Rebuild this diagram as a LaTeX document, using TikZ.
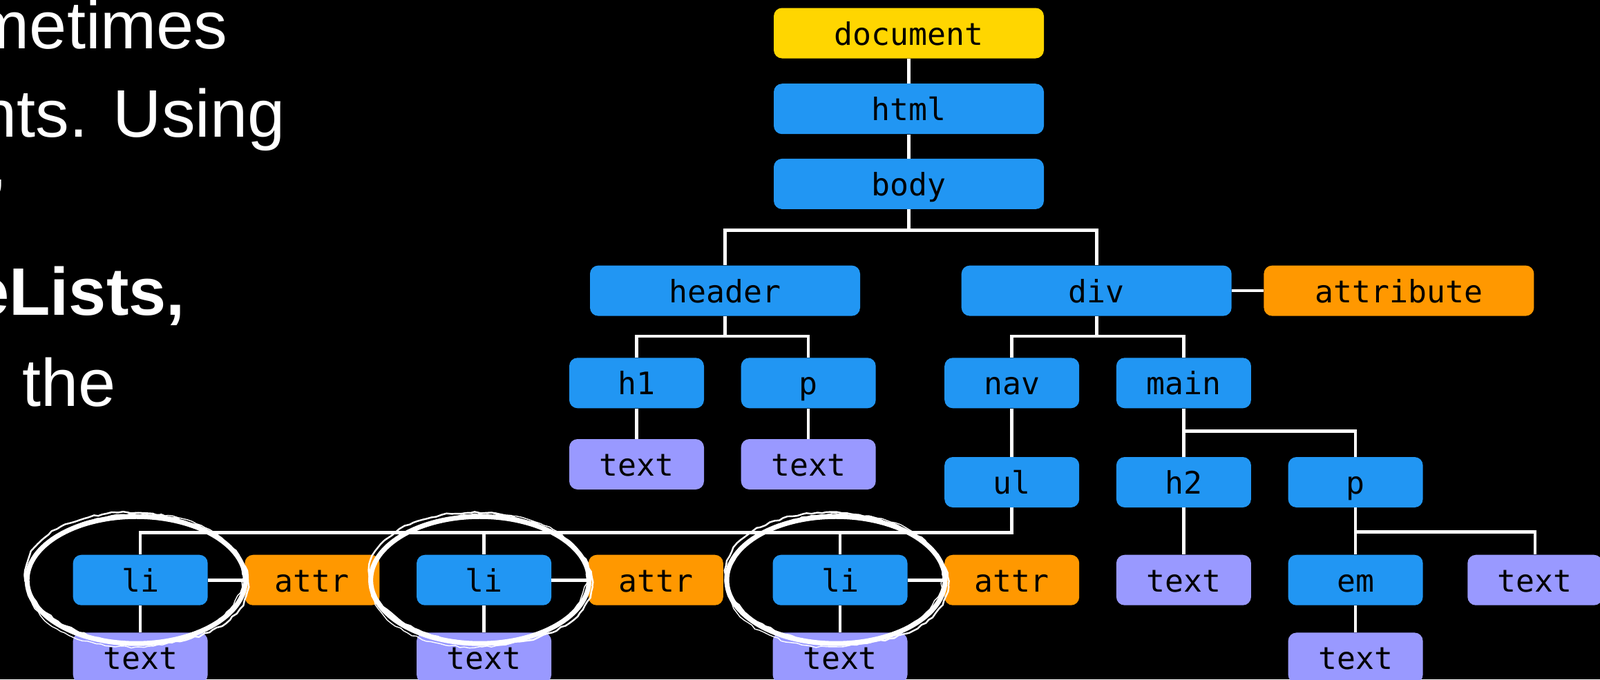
\documentclass[tikz,border=0pt]{standalone}
\usepackage{xcolor}
\usepackage{fontspec}
\usepackage{tikz}
\usetikzlibrary{positioning,calc,decorations.pathmorphing}

\newfontfamily\slidefont{Liberation Sans}
\newfontfamily\monolabel{DejaVu Sans Mono}

\definecolor{tagblue}{HTML}{2196F3}
\definecolor{rootyellow}{HTML}{FFD600}
\definecolor{attrorange}{HTML}{FF9800}
\definecolor{textlilac}{HTML}{9999FF}

\begin{document}
\begin{tikzpicture}[
    font={\monolabel\fontsize{25.5pt}{30pt}\selectfont},
    tag/.style={rounded corners=0.24cm, fill=tagblue, text=black, inner sep=0pt, minimum width=3.9cm, minimum height=1.46cm, text height=0.68cm, text depth=0pt},
    widetag/.style={tag, minimum width=7.82cm},
    roottag/.style={widetag, fill=rootyellow},
    attrtag/.style={tag, fill=attrorange},
    texttag/.style={tag, fill=textlilac},
    link/.style={draw=white, line width=2.6pt},
    scribble/.style={draw=white, line width=1.4pt, decorate, decoration={random steps, segment length=4pt, amplitude=0.8pt}},
    slide/.style={text=white, inner sep=0pt, font={\slidefont\fontsize{55.4pt}{66pt}\selectfont}}
]
    \useasboundingbox[fill=black] (0,0) rectangle (46.32,-19.68);

    % text of the slide, cut at the left edge
    \node[slide, anchor=base east] (line1) at (6.6,-1.4) {metimes};
    \node[slide, anchor=base east] (line2) at (8.26,-3.96) {nts. Using};
    \node[slide, anchor=base east] (line3) at (0.16,-6.54) {’};
    \node[slide, anchor=base east] (line4) at (5.36,-9.12) {\bfseries eLists,};
    \node[slide, anchor=base west] (line5) at (0.64,-11.76) {the};

    % tree
    \node[roottag] (document) at (26.31,-0.96) {document};
    \node[widetag, below=0.72cm of document] (html) {html};
    \node[widetag, below=0.70cm of html] (body) {body};

    \node[widetag, below=1.62cm of body, xshift=-5.32cm] (header) {header};
    \node[widetag, right=2.92cm of header] (div) {div};
    \node[widetag, fill=attrorange, right=0.92cm of div] (attribute) {attribute};

    \node[tag, below=1.2cm of header, xshift=-2.56cm] (h1) {h1};
    \node[tag, right=1.06cm of h1] (hp) {p};
    \node[texttag, below=0.88cm of h1] (h1text) {text};
    \node[texttag, below=0.88cm of hp] (hptext) {text};

    \node[tag, below=1.2cm of div, xshift=-2.45cm] (nav) {nav};
    \node[tag, right=1.06cm of nav] (main) {main};
    \node[tag, below=1.4cm of nav] (ul) {ul};
    \node[tag, below=1.4cm of main] (h2) {h2};
    \node[tag, right=1.06cm of h2] (mp) {p};

    \node[attrtag, below=1.36cm of ul] (attr3) {attr};
    \node[tag, left=1.06cm of attr3] (li3) {li};
    \node[attrtag, left=1.42cm of li3] (attr2) {attr};
    \node[tag, left=1.06cm of attr2] (li2) {li};
    \node[attrtag, left=1.06cm of li2] (attr1) {attr};
    \node[tag, left=1.06cm of attr1] (li1) {li};
    \foreach \n in {1,2,3}
        \node[texttag, below=0.78cm of li\n] (litext\n) {text};

    \node[texttag, below=1.36cm of h2] (h2text) {text};
    \node[tag, below=1.36cm of mp] (em) {em};
    \node[texttag, right=1.28cm of em] (mptext) {text};
    \node[texttag, below=0.78cm of em] (emtext) {text};

    % links
    \draw[link] (document) -- (html);
    \draw[link] (html) -- (body);
    \draw[link] (body.south) -- ++(0,-0.6cm) -| (header.north);
    \draw[link] (body.south) -- ++(0,-0.6cm) -| (div.north);
    \draw[link] (div) -- (attribute);
    \draw[link] (header.south) -- ++(0,-0.58cm) -| (h1.north);
    \draw[link] (header.south) -- ++(0,-0.58cm) -| (hp.north);
    \draw[link] (h1) -- (h1text);
    \draw[link] (hp) -- (hptext);
    \draw[link] (div.south) -- ++(0,-0.58cm) -| (nav.north);
    \draw[link] (div.south) -- ++(0,-0.58cm) -| (main.north);
    \draw[link] (nav) -- (ul);
    \draw[link] (main.south) -- ++(0,-0.66cm) -| (h2.north);
    \draw[link] (main.south) -- ++(0,-0.66cm) -| (mp.north);
    \draw[link] (h2) -- (h2text);
    \draw[link] (mp.south) -- ++(0,-0.7cm) -| (em.north);
    \draw[link] (mp.south) -- ++(0,-0.7cm) -| (mptext.north);
    \draw[link] (em) -- (emtext);
    \foreach \n in {1,2,3} {
        \draw[link] (ul.south) -- ++(0,-0.72cm) -| (li\n.north);
        \draw[link] (li\n) -- (attr\n);
        \draw[link] (li\n) -- (litext\n);
    }

    % hand drawn rings round the li nodes
    \foreach \n in {1,2,3} {
        \draw[white, line width=4pt] ([xshift=-0.12cm]li\n.center) ellipse [x radius=3.16cm, y radius=1.84cm];
        \draw[scribble, rotate around={-4:([xshift=-0.12cm]li\n.center)}] ([xshift=-0.1cm, yshift=0.04cm]li\n.center) ellipse [x radius=3.24cm, y radius=1.9cm];
        \draw[scribble, line width=0.8pt, rotate around={3:([xshift=-0.12cm]li\n.center)}] ([xshift=-0.16cm]li\n.center) ellipse [x radius=3.12cm, y radius=1.93cm];
    }
\end{tikzpicture}
\end{document}
